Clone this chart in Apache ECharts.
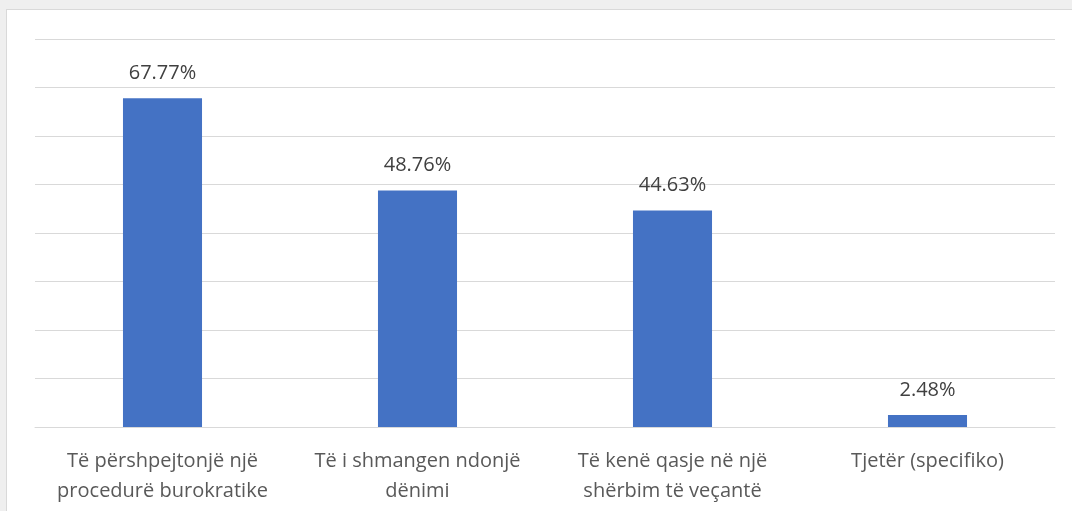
<!DOCTYPE html>
<html>
<head>
<meta charset="utf-8">
<script src="https://cdn.jsdelivr.net/npm/echarts@6/dist/echarts.min.js"></script>
<style>
  html, body {
    margin: 0;
    padding: 0;
    width: 1072px;
    height: 511px;
    background: #efefef;
    overflow: hidden;
  }
  #chart {
    position: absolute;
    left: 6px;
    top: 9px;
    width: 1066px;
    height: 502px;
    background: #ffffff;
    border-left: 1px solid #d9d9d9;
    border-top: 1px solid #d9d9d9;
    box-sizing: border-box;
  }
</style>
</head>
<body>
<div id="chart"></div>
<script>
const categories = [
  'Të përshpejtonjë një\nprocedurë burokratike',
  'Të i shmangen ndonjë\ndënimi',
  'Të kenë qasje në një\nshërbim të veçantë',
  'Tjetër (specifiko)'
];
const values = [67.77, 48.76, 44.63, 2.48];

const chart = echarts.init(document.getElementById('chart'));

chart.setOption({
  animation: false,
  textStyle: {
    fontFamily: '"Open Sans", "Noto Sans", sans-serif',
  },
  grid: {
    left: 28,
    right: 17,
    top: 29,
    bottom: 84,
  },
  xAxis: {
    type: 'category',
    data: categories,
    axisLine: {
      lineStyle: { color: '#d9d9d9', width: 1 },
    },
    axisTick: { show: false },
    axisLabel: {
      color: '#595959',
      fontSize: 20,
      lineHeight: 30,
      margin: 19,
      interval: 0,
    },
  },
  yAxis: {
    type: 'value',
    min: 0,
    max: 80,
    interval: 10,
    axisLabel: { show: false },
    axisLine: { show: false },
    axisTick: { show: false },
    splitLine: {
      lineStyle: { color: '#d9d9d9', width: 1 },
    },
  },
  series: [{
    type: 'bar',
    data: values,
    barWidth: '31%',
    itemStyle: { color: '#4472c4' },
    label: {
      show: true,
      position: 'top',
      distance: 15,
      color: '#404040',
      fontSize: 20,
      formatter: (p) => p.value.toFixed(2) + '%',
    },
  }],
});
</script>
</body>
</html>
